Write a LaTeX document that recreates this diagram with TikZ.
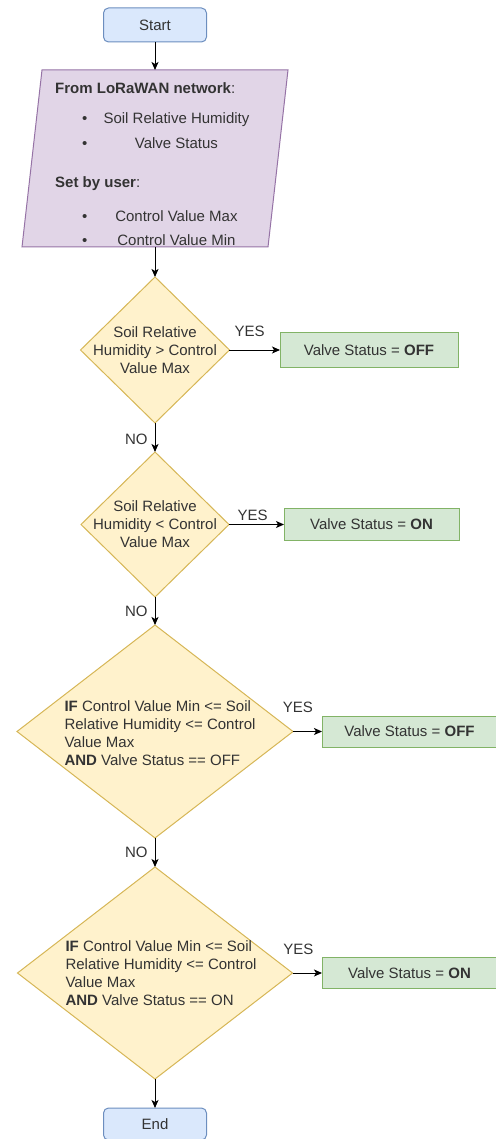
\documentclass[tikz,border=0pt]{standalone}
\usepackage{fontspec}
\setmainfont{Liberation Sans}
\usepackage{tikz}
\usetikzlibrary{arrows.meta,positioning,shapes.geometric}
\definecolor{cB}{HTML}{dae8fc}
\definecolor{cBd}{HTML}{6c8ebf}
\definecolor{cP}{HTML}{e1d5e7}
\definecolor{cPd}{HTML}{9673a6}
\definecolor{cY}{HTML}{fff2cc}
\definecolor{cYd}{HTML}{d6b656}
\definecolor{cG}{HTML}{d5e8d4}
\definecolor{cGd}{HTML}{82b366}
\definecolor{cT}{HTML}{333333}

\begin{document}
\begin{tikzpicture}[x=1pt,y=-1pt,
  every node/.style={font=\fontsize{15}{18}\selectfont,text=cT},
  term/.style={draw=cBd,fill=cB,line width=1pt,rounded corners=5pt,
    minimum width=103pt,minimum height=34pt,inner sep=0pt,outer sep=0pt},
  io/.style={minimum width=246pt,minimum height=177pt,inner sep=0pt,outer sep=0pt},
  iobox/.style={draw=cPd,fill=cP,line width=1pt},
  cond/.style={diamond,draw=cYd,fill=cY,line width=1pt,inner sep=0pt,outer sep=0pt},
  act/.style={draw=cGd,fill=cG,line width=1pt,minimum width=175pt,
    minimum height=32pt,inner sep=0pt,outer sep=0pt},
  arr/.style={-{Stealth[length=8pt,width=7pt,inset=2pt]},line width=1pt},
  lbl/.style={inner sep=0pt}]
  \useasboundingbox (0,0) rectangle (495,1139);

  % terminals and input
  \node[term] (start) at (155,25) {Start};
  \node[io] (inp) at (155,158.5) {};
  \draw[iobox] ([xshift=-10pt]inp.south west) -- ([xshift=10pt]inp.north west)
    -- ([xshift=10pt]inp.north east) -- ([xshift=-10pt]inp.south east) -- cycle;
  \node[align=left,anchor=north west,inner sep=0pt] (inpt) at (55,82)
    {\textbf{From LoRaWAN network}:\\[12pt]
     \hspace*{27pt}\textbullet\hspace*{13pt}\makebox[152pt]{Soil Relative Humidity}\\[7pt]
     \hspace*{27pt}\textbullet\hspace*{13pt}\makebox[152pt]{Valve Status}\\[21pt]
     \textbf{Set by user}:\\[16pt]
     \hspace*{27pt}\textbullet\hspace*{13pt}\makebox[152pt]{Control Value Max}\\[6pt]
     \hspace*{27pt}\textbullet\hspace*{13pt}\makebox[152pt]{Control Value Min}};

  % decisions
  \node[cond,minimum width=149pt,minimum height=146pt] (c1) at (155,350) {};
  \node[align=center] (t1) at (c1) {Soil Relative\\Humidity > Control\\Value Max};
  \node[cond,minimum width=148pt,minimum height=145pt] (c2) at (155,524.5) {};
  \node[align=center] (t2) at (c2) {Soil Relative\\Humidity < Control\\Value Max};
  \node[cond,minimum width=276pt,minimum height=213pt] (c3) at (155,731.5) {};
  \node[align=left] (t3) at (160,733) {\textbf{IF} Control Value Min <= Soil\\
    Relative Humidity <= Control\\Value Max\\\textbf{AND} Valve Status == OFF};
  \node[cond,minimum width=275pt,minimum height=212pt] (c4) at (155,973) {};
  \node[align=left] (t4) at (161,973) {\textbf{IF} Control Value Min <= Soil\\
    Relative Humidity <= Control\\Value Max\\\textbf{AND} Valve Status == ON};
  \node[term,minimum height=32pt] (end) at (155,1124) {End};

  % actions
  \node[act,minimum width=178pt,minimum height=35pt] (s1) at (369,350) {Valve Status = \textbf{OFF}};
  \node[act] (s2) at (371.5,524.5) {Valve Status = \textbf{ON}};
  \node[act,minimum height=31pt] (s3) at (409.5,731.5) {Valve Status = \textbf{OFF}};
  \node[act,minimum height=31pt] (s4) at (409.5,973) {Valve Status = \textbf{ON}};

  % connectors
  \draw[arr] (start) -- (inp);
  \draw[arr] (inp) -- (c1);
  \draw[arr] (c1) -- node[lbl,above=12.6pt,pos=0.4] (y1) {YES} (s1);
  \draw[arr] (c2) -- node[lbl,above=3.6pt,pos=0.43] (y2) {YES} (s2);
  \draw[arr] (c3) -- node[lbl,above=18.6pt,pos=0.17] (y3) {YES} (s3);
  \draw[arr] (c4) -- node[lbl,above=17.6pt,pos=0.2] (y4) {YES} (s4);
  \draw[arr] (c1) -- node[lbl,left=7pt,pos=0.55] (n1) {NO} (c2);
  \draw[arr] (c2) -- node[lbl,left=7pt,pos=0.5] (n2) {NO} (c3);
  \draw[arr] (c3) -- node[lbl,left=7pt,pos=0.5] (n3) {NO} (c4);
  \draw[arr] (c4) -- (end);
\end{tikzpicture}
\end{document}
